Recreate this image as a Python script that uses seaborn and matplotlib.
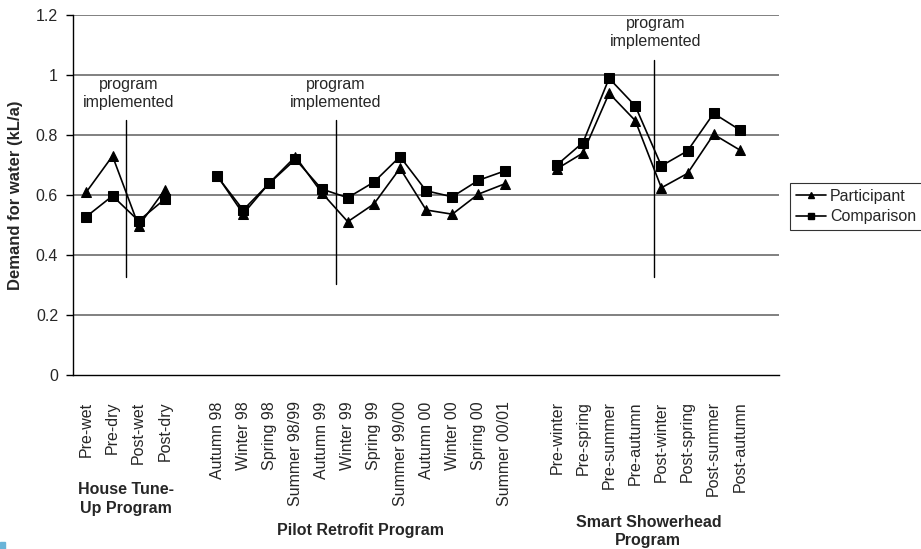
import numpy as np
import pandas as pd
import matplotlib
matplotlib.use("Agg")
import matplotlib.pyplot as plt
import seaborn as sns
from matplotlib.lines import Line2D
from matplotlib.patches import Rectangle

# Category labels for each program (a blank slot separates the programs)
house_labels = ["Pre-wet", "Pre-dry", "Post-wet", "Post-dry"]
pilot_labels = ["Autumn 98", "Winter 98", "Spring 98", "Summer 98/99", "Autumn 99",
                "Winter 99", "Spring 99", "Summer 99/00", "Autumn 00", "Winter 00",
                "Spring 00", "Summer 00/01"]
smart_labels = ["Pre-winter", "Pre-spring", "Pre-summer", "Pre-autumn",
                "Post-winter", "Post-spring", "Post-summer", "Post-autumn"]

# Demand for water (kL/a)
house_participant = [0.61, 0.73, 0.497, 0.617]
house_comparison = [0.528, 0.597, 0.514, 0.586]
pilot_participant = [0.665, 0.537, 0.64, 0.728, 0.608, 0.511, 0.57, 0.689,
                     0.55, 0.536, 0.603, 0.637]
pilot_comparison = [0.663, 0.55, 0.639, 0.719, 0.62, 0.591, 0.643, 0.728,
                    0.614, 0.594, 0.649, 0.68]
smart_participant = [0.687, 0.74, 0.939, 0.848, 0.624, 0.672, 0.802, 0.75]
smart_comparison = [0.70, 0.775, 0.989, 0.897, 0.697, 0.747, 0.872, 0.817]

group_titles = ["House Tune-\nUp Program", "Pilot Retrofit Program",
                "Smart Showerhead\nProgram"]

FS = 11.5

# Build the long-form table, one slot between programs
groups = [
    (house_labels, house_participant, house_comparison),
    (pilot_labels, pilot_participant, pilot_comparison),
    (smart_labels, smart_participant, smart_comparison),
]
rows = []
tick_pos, tick_lab, group_centres = [], [], []
pos = 0
for gi, (labels, part, comp) in enumerate(groups):
    start = pos
    for lab, p, c in zip(labels, part, comp):
        rows.append({"x": pos, "value": p, "series": "Participant", "program": gi})
        rows.append({"x": pos, "value": c, "series": "Comparison", "program": gi})
        tick_pos.append(pos)
        tick_lab.append(lab)
        pos += 1
    group_centres.append((start + pos - 1) / 2)
    pos += 1
n_slots = pos - 1
df = pd.DataFrame(rows)

sns.set_style("white")
plt.rcParams["font.family"] = ["Liberation Sans", "DejaVu Sans"]

fig = plt.figure(figsize=(9.21, 5.49), dpi=100)
ax = fig.add_axes([73.3 / 921, 1 - 375 / 549, (779 - 73.3) / 921, 360 / 549])

sns.lineplot(data=df, x="x", y="value", hue="series", style="series",
             units="program", estimator=None, sort=False,
             palette={"Participant": "black", "Comparison": "black"},
             markers={"Participant": "^", "Comparison": "s"},
             dashes=False, markersize=7, linewidth=1.2,
             markeredgecolor="black", legend=False, ax=ax, zorder=3)

ax.set_xlim(-0.5, n_slots + 0.5)
ax.set_ylim(0, 1.2)

# Horizontal grid
yt = [0, 0.2, 0.4, 0.6, 0.8, 1.0, 1.2]
ax.set_yticks(yt)
ax.set_yticklabels(["0", "0.2", "0.4", "0.6", "0.8", "1", "1.2"], fontsize=FS)
for v in yt[1:]:
    ax.axhline(v, color="#808080", lw=1.4, zorder=1)

ax.set_xticks(tick_pos)
ax.set_xticklabels(tick_lab, rotation=90, fontsize=FS)
ax.set_xticks(np.arange(-0.5, n_slots + 1, 1), minor=True)
ax.tick_params(axis="x", which="major", length=0, pad=19)
ax.tick_params(axis="x", which="minor", length=5, width=1, color="black",
               direction="out")
ax.tick_params(axis="y", length=5, width=1, color="black", direction="out",
               left=True, pad=6)

for side in ["top", "right"]:
    ax.spines[side].set_visible(False)
for side in ["left", "bottom"]:
    ax.spines[side].set_color("black")
    ax.spines[side].set_linewidth(1)

ax.set_xlabel("")
ax.set_ylabel("Demand for water (kL/a)", fontsize=12, fontweight="bold",
              labelpad=9)

# Program start markers
impl = [(1.5, 0.327, 0.85, 1.63, 0.939),
        (9.54, 0.302, 0.85, 9.55, 0.939),
        (21.7, 0.328, 1.05, 21.77, 1.142)]
for xv, y0, y1, tx, ty in impl:
    ax.plot([xv, xv], [y0, y1], color="black", lw=1, zorder=2)
    ax.text(tx, ty, "program\nimplemented", ha="center", va="center",
            fontsize=FS, linespacing=1.3, zorder=4)

# Program group titles under the tick labels
title_y = [499 / 549, 530 / 549, 531.5 / 549]
for gc, title, ty in zip(group_centres, group_titles, title_y):
    xf = ax.transData.transform((gc, 0))[0] / fig.bbox.width
    fig.text(xf, 1 - ty, title, ha="center", va="center", fontsize=FS,
             fontweight="bold", linespacing=1.25)

# Legend
handles = [Line2D([], [], color="black", lw=1.2, marker="^", markersize=5),
           Line2D([], [], color="black", lw=1.2, marker="s", markersize=5)]
leg = fig.legend(handles, ["Participant", "Comparison"], loc="upper left",
                 bbox_to_anchor=(790 / 921, 1 - 183 / 549),
                 bbox_transform=fig.transFigure, borderaxespad=0,
                 fontsize=FS, frameon=True, fancybox=False, handlelength=1.9,
                 handletextpad=0.25, borderpad=0.35, labelspacing=0.35)
leg.get_frame().set_edgecolor("black")
leg.get_frame().set_linewidth(0.8)

# Small corner tab
fig.patches.append(Rectangle((0, 0), 5 / 921, 7 / 549, transform=fig.transFigure,
                             color="#6ab4d8", zorder=0))

fig.savefig("out.png", dpi=100)
